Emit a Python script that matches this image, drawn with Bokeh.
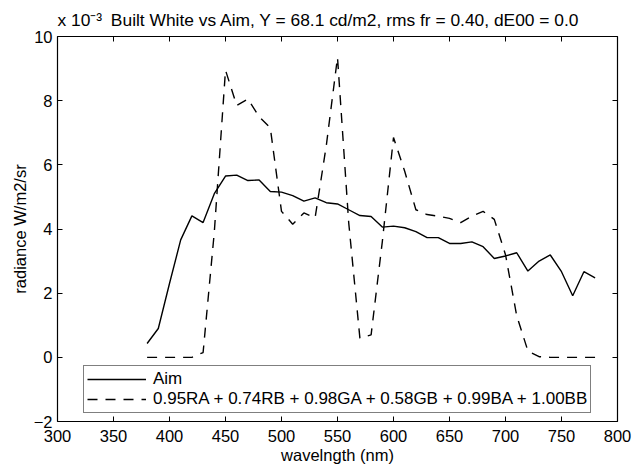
from bokeh.plotting import figure
from bokeh.models import Range1d, FixedTicker, LinearAxis, Legend, LegendItem
from bokeh.embed import file_html
from bokeh.resources import INLINE

# ---- data (radiance in units of 1e-3 W/m2/sr) ----
wavelength = [380, 390, 400, 410, 420, 430, 440, 450, 460, 470,
              480, 490, 500, 510, 520, 530, 540, 550, 560, 570,
              580, 590, 600, 610, 620, 630, 640, 650, 660, 670,
              680, 690, 700, 710, 720, 730, 740, 750, 760, 770, 780]
aim = [0.43, 0.90, 2.30, 3.66, 4.41, 4.20, 5.10, 5.65, 5.68, 5.51,
       5.53, 5.17, 5.15, 5.04, 4.87, 4.97, 4.82, 4.78, 4.60, 4.42,
       4.39, 4.06, 4.09, 4.04, 3.92, 3.73, 3.73, 3.55, 3.55, 3.60,
       3.45, 3.08, 3.16, 3.26, 2.69, 3.00, 3.19, 2.67, 1.92, 2.67, 2.48]
mix = [0.0, 0.0, 0.0, 0.0, 0.0, 0.15, 3.90, 8.95, 7.85, 8.05,
       7.50, 7.15, 4.55, 4.15, 4.50, 4.35, 6.60, 9.35, 4.20, 0.60,
       0.70, 3.60, 6.85, 5.80, 4.60, 4.45, 4.40, 4.33, 4.20, 4.40,
       4.55, 4.30, 3.20, 1.30, 0.20, 0.02, 0.0, 0.0, 0.0, 0.0, 0.0]

x_ticks = [300, 350, 400, 450, 500, 550, 600, 650, 700, 750, 800]
y_ticks = [-2, 0, 2, 4, 6, 8, 10]
y_tick_labels = {-2: "\u22122"}

exponent_text = "x 10\u207b\u00b3"
title_text = "Built White vs Aim, Y = 68.1 cd/m2, rms fr = 0.40, dE00 = 0.0"
aim_label = "Aim"
mix_label = "0.95RA + 0.74RB + 0.98GA + 0.58GB + 0.99BA + 1.00BB"
x_label = "wavelngth (nm)"
y_label = "radiance W/m2/sr"

FONT = "Liberation Sans"

p = figure(width=634, height=467,
           x_range=Range1d(300, 800), y_range=Range1d(-2, 10),
           output_backend="svg", toolbar_location=None,
           title=exponent_text + "\u2002" + title_text,
           min_border_left=57, min_border_right=17,
           min_border_top=36, min_border_bottom=46)

p.background_fill_color = "white"
p.border_fill_color = "white"
p.outline_line_color = None
p.xgrid.visible = False
p.ygrid.visible = False

p.title.align = "left"
p.title.offset = 0
p.title.text_font = FONT
p.title.text_font_size = "17.4px"
p.title.text_font_style = "normal"
p.title.text_color = "black"
p.title.standoff = 13


def style_axis(ax, ticks):
    ax.ticker = FixedTicker(ticks=ticks)
    ax.axis_line_color = "black"
    ax.axis_line_width = 1.2
    ax.major_tick_line_color = "black"
    ax.major_tick_line_width = 1
    ax.major_tick_in = 5
    ax.major_tick_out = 0
    ax.minor_tick_in = 0
    ax.minor_tick_out = 0
    ax.minor_tick_line_color = None
    ax.major_label_text_font = FONT
    ax.major_label_text_color = "black"


xa = p.xaxis[0]
style_axis(xa, x_ticks)
xa.major_label_text_font_size = "16.5px"
xa.major_label_standoff = 8
xa.axis_label = x_label
xa.axis_label_text_font = FONT
xa.axis_label_text_font_size = "16.5px"
xa.axis_label_text_font_style = "normal"
xa.axis_label_text_color = "black"
xa.axis_label_standoff = 1

ya = p.yaxis[0]
style_axis(ya, y_ticks)
ya.major_label_text_font_size = "16.5px"
ya.major_label_standoff = 5
ya.major_label_overrides = y_tick_labels
ya.axis_label = y_label
ya.axis_label_text_font = FONT
ya.axis_label_text_font_size = "16.5px"
ya.axis_label_text_font_style = "normal"
ya.axis_label_text_color = "black"
ya.axis_label_standoff = 2

top = LinearAxis()
style_axis(top, x_ticks)
top.major_label_overrides = {t: "" for t in x_ticks}
top.major_label_text_font_size = "1px"
top.major_label_standoff = 0
p.add_layout(top, "above")

right = LinearAxis()
style_axis(right, y_ticks)
right.major_label_overrides = {t: "" for t in y_ticks}
right.major_label_text_font_size = "1px"
right.major_label_standoff = 0
p.add_layout(right, "right")

r_aim = p.line(wavelength, aim, line_color="black", line_width=1.4)
r_mix = p.line(wavelength, mix, line_color="black", line_width=1.4,
               line_dash="10 8")

legend = Legend(items=[LegendItem(label=aim_label, renderers=[r_aim]),
                       LegendItem(label=mix_label, renderers=[r_mix])],
                location=(26, 8))
legend.margin = 0
legend.padding = 3
legend.spacing = 0
legend.glyph_width = 59
legend.glyph_height = 20
legend.label_height = 20
legend.label_standoff = 7
legend.label_text_font = FONT
legend.label_text_font_size = "17px"
legend.label_text_color = "black"
legend.border_line_color = "black"
legend.border_line_width = 1.5
legend.background_fill_color = "white"
legend.background_fill_alpha = 1.0
p.add_layout(legend)

open("out.html", "w").write(file_html(p, INLINE))
